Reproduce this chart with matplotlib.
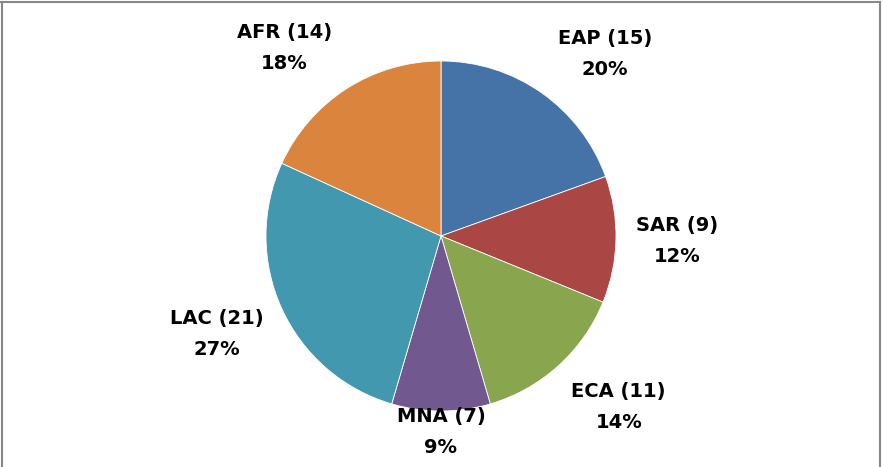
import numpy as np
import matplotlib.pyplot as plt
from matplotlib.lines import Line2D

regions = ['EAP', 'SAR', 'ECA', 'MNA', 'LAC', 'AFR']
counts = [15, 9, 11, 7, 21, 14]
pct_labels = ['20%', '12%', '14%', '9%', '27%', '18%']   # as printed on the chart
colors = ['#4572A7', '#AA4643', '#89A54E', '#71588F', '#4198AF', '#DB843D']
# distance of each label from the centre, in radii (Excel "best fit" look)
label_dist = [1.40, 1.35, 1.41, 1.12, 1.40, 1.40]
label_shift = [-7, 0, 4, 0, -1, 7]   # degrees nudged off the wedge middle

W, H = 883, 467
fig = plt.figure(figsize=(W / 100, H / 100), dpi=100)
ax = fig.add_axes([0, 0, 1, 1])

R = 175.0
cx, cy = 441.0, 236.0

wedges, _ = ax.pie(counts, colors=colors, startangle=90, counterclock=False,
                   radius=1.0, wedgeprops=dict(edgecolor='white', linewidth=0.6))
ax.set_xlim(-cx / R, (W - cx) / R)
ax.set_ylim(-(H - cy) / R, cy / R)
ax.set_aspect('auto')
ax.axis('off')

for w, name, n, p, d, s in zip(wedges, regions, counts, pct_labels, label_dist, label_shift):
    ang = np.deg2rad((w.theta1 + w.theta2) / 2 + s)
    ax.text(d * np.cos(ang), d * np.sin(ang), f'{name} ({n})\n{p}',
            ha='center', va='center', fontsize=14, fontweight='bold',
            family='DejaVu Sans', linespacing=1.8, color='black')

# chart frame
fc = '#878787'
fig.add_artist(Line2D([1 / W, 880 / W], [1 - 1.5 / H, 1 - 1.5 / H], color=fc, lw=1.5))
fig.add_artist(Line2D([1.5 / W, 1.5 / W], [0, 1 - 1.5 / H], color=fc, lw=1.5))
fig.add_artist(Line2D([880 / W, 880 / W], [0, 1 - 1.5 / H], color=fc, lw=1.5))

plt.savefig('out.png', dpi=100)
